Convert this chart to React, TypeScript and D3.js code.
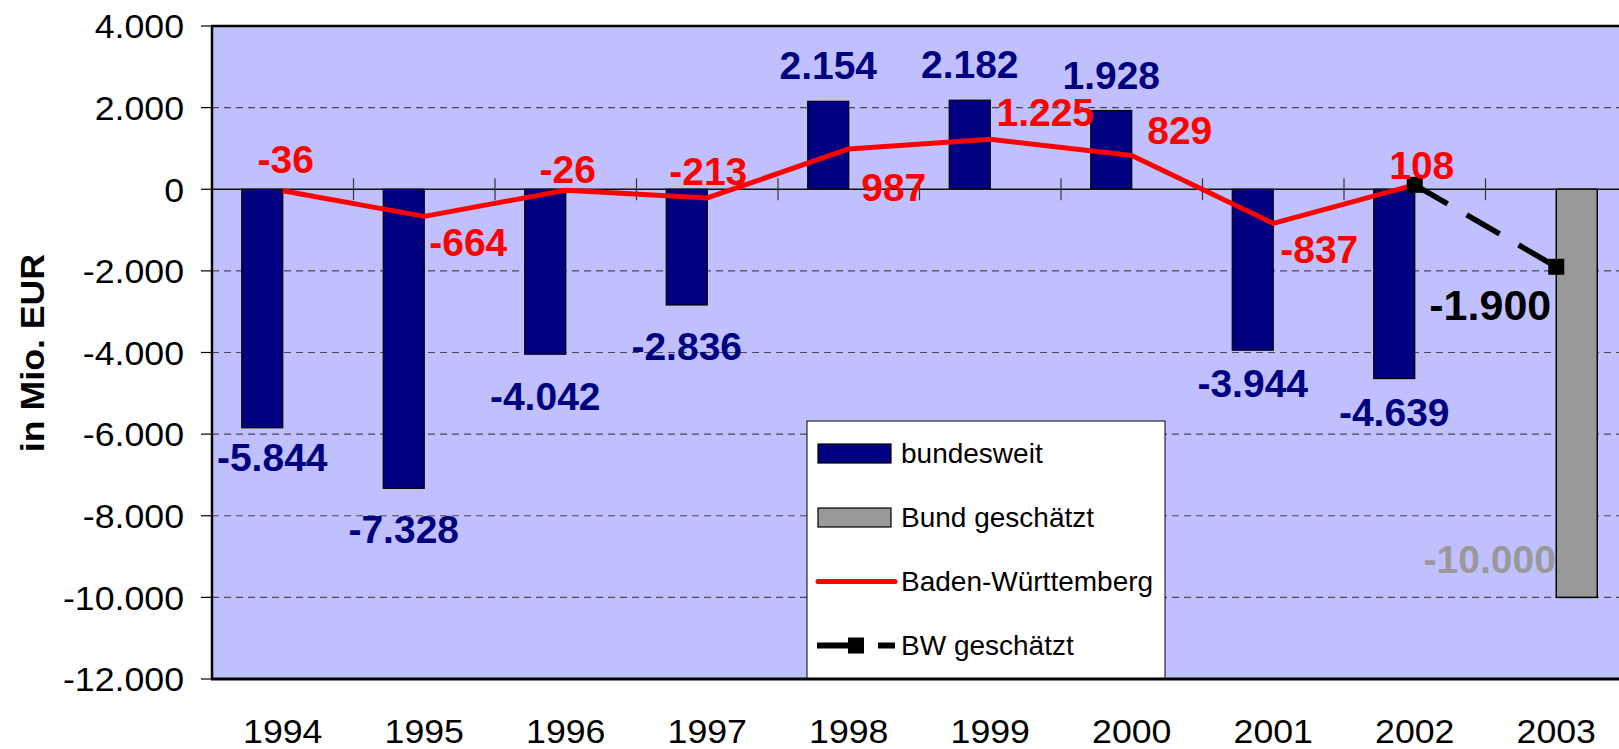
import React from 'react';
import * as d3 from 'd3';

// ---------------- data ----------------
const years = ['1994', '1995', '1996', '1997', '1998', '1999', '2000', '2001', '2002', '2003'];
const bundesweit: (number | null)[] = [-5844, -7328, -4042, -2836, 2154, 2182, 1928, -3944, -4639, null];
const bundGeschaetzt: (number | null)[] = [null, null, null, null, null, null, null, null, null, -10000];
const badenWuerttemberg: (number | null)[] = [-36, -664, -26, -213, 987, 1225, 829, -837, 108, null];
const bwGeschaetzt: (number | null)[] = [null, null, null, null, null, null, null, null, 108, -1900];
const yTicks = [4000, 2000, 0, -2000, -4000, -6000, -8000, -10000, -12000];
const legendLabels = ['bundesweit', 'Bund geschätzt', 'Baden-Württemberg', 'BW geschätzt'];
const yTitle = 'in Mio. EUR';

// ---------------- layout ----------------
const W = 1619;
const H = 749;
const P = { left: 212, top: 26, right: 1627, bottom: 679 };
// label placement (pixel offsets relative to the data point)
const bundLabelGap = [29.5, 41, 42, 41, 36, 36, 36, 32.5, 33];
const bundLabelDx = [10, 0, 0, 0, 0, 0, 0, 0, 0];
const bwLabelOffset: [number, number][] = [
  [3, -31.5], [44, 26], [2, -21], [1, -27], [45, 38], [55, -27], [48, -25], [46, 26], [7, -20],
];
const bwEstLabelOffset: [number, number] = [-66, 37.5];
const bundEstLabelOffset: [number, number] = [-87, -38];

const NAVY = '#000080';
const GRAY = '#999999';
const RED = '#FF0000';
const BG = '#C0C0FF';
const FONT = '"Liberation Sans", Arial, sans-serif';

const locale = d3.formatLocale({
  decimal: ',',
  thousands: '.',
  grouping: [3],
  currency: ['', ' €'],
  minus: '-',
});
const fmt = locale.format(',d');

export default function App() {
  const x = d3.scaleBand<string>().domain(years).range([P.left, P.right]).padding(0);
  const bw = x.bandwidth();
  const sub = d3
    .scaleBand<string>()
    .domain(['bund', 'est'])
    .range([0, bw])
    .paddingInner(0)
    .paddingOuter(0.7256);
  const barW = sub.bandwidth();
  const y = d3.scaleLinear().domain([-12000, 4000]).range([P.bottom, P.top]);
  const cx = (i: number) => (x(years[i]) as number) + bw / 2;

  const lineGen = d3
    .line<number | null>()
    .defined((d) => d !== null)
    .x((_, i) => cx(i))
    .y((d) => y(d as number));

  const gridVals = yTicks.filter((v) => v !== 0 && v !== 4000 && v !== -12000);
  const legendX = 807;
  const legendY = 421;
  const legendW = 358;
  const legendH = P.bottom - legendY;
  const rowY = (i: number) => 453.5 + i * 64;

  return (
    <svg
      width={W}
      height={H}
      style={{ position: 'absolute', left: 0, top: 0, background: '#fff' }}
      fontFamily={FONT}
    >
      {/* plot background */}
      <rect x={P.left} y={P.top} width={P.right - P.left} height={P.bottom - P.top} fill={BG} />

      {/* dashed gridlines */}
      {gridVals.map((v) => (
        <line
          key={'g' + v}
          x1={P.left}
          x2={P.right}
          y1={y(v)}
          y2={y(v)}
          stroke="#222"
          strokeWidth={1.1}
          strokeDasharray="7 5"
          opacity={0.75}
        />
      ))}

      {/* bars */}
      {bundesweit.map((v, i) =>
        v === null ? null : (
          <rect
            key={'b' + i}
            x={(x(years[i]) as number) + (sub('bund') as number)}
            y={Math.min(y(v), y(0))}
            width={barW}
            height={Math.abs(y(v) - y(0))}
            fill={NAVY}
            stroke="#000"
            strokeWidth={1.2}
          />
        )
      )}
      {bundGeschaetzt.map((v, i) =>
        v === null ? null : (
          <rect
            key={'e' + i}
            x={(x(years[i]) as number) + (sub('est') as number)}
            y={Math.min(y(v), y(0))}
            width={barW}
            height={Math.abs(y(v) - y(0))}
            fill={GRAY}
            stroke="#000"
            strokeWidth={1.5}
          />
        )
      )}

      {/* zero axis with cross ticks */}
      <line x1={P.left} x2={P.right} y1={y(0)} y2={y(0)} stroke="#111" strokeWidth={1.5} />
      {years.slice(1).map((yr) => (
        <line
          key={'t' + yr}
          x1={x(yr) as number}
          x2={x(yr) as number}
          y1={y(0) - 11}
          y2={y(0) + 11}
          stroke="#333"
          strokeWidth={1.2}
        />
      ))}

      {/* lines */}
      <path d={lineGen(badenWuerttemberg) || ''} fill="none" stroke={RED} strokeWidth={5} strokeLinejoin="round" />
      <path
        d={lineGen(bwGeschaetzt) || ''}
        fill="none"
        stroke="#000"
        strokeWidth={5.5}
        strokeDasharray="38 22"
      />
      {bwGeschaetzt.map((v, i) =>
        v === null ? null : (
          <rect key={'m' + i} x={cx(i) - 8} y={y(v) - 8} width={16} height={16} fill="#000" />
        )
      )}

      {/* data labels */}
      <g fontWeight="bold" fontSize={39} textAnchor="middle">
        {bundesweit.map((v, i) => {
          if (v === null) return null;
          const bx = (x(years[i]) as number) + (sub('bund') as number) + barW / 2;
          const gy = y(v) + (v < 0 ? bundLabelGap[i] : -bundLabelGap[i]);
          return (
            <text key={'lb' + i} x={bx + bundLabelDx[i]} y={gy} dy="0.36em" fill={NAVY}>
              {fmt(v)}
            </text>
          );
        })}
        {badenWuerttemberg.map((v, i) => {
          if (v === null) return null;
          const [dx, dy] = bwLabelOffset[i];
          return (
            <text key={'lr' + i} x={cx(i) + dx} y={y(v) + dy} dy="0.36em" fill={RED}>
              {fmt(v)}
            </text>
          );
        })}
        {bundGeschaetzt.map((v, i) => {
          if (v === null) return null;
          const bx = (x(years[i]) as number) + (sub('est') as number) + barW / 2;
          return (
            <text
              key={'lg' + i}
              x={bx + bundEstLabelOffset[0]}
              y={y(v) + bundEstLabelOffset[1]}
              dy="0.36em"
              fill={GRAY}
            >
              {fmt(v)}
            </text>
          );
        })}
        {bwGeschaetzt.map((v, i) => {
          if (v === null || i !== bwGeschaetzt.length - 1) return null;
          return (
            <text
              key={'lk' + i}
              x={cx(i) + bwEstLabelOffset[0]}
              y={y(v) + bwEstLabelOffset[1]}
              dy="0.36em"
              fill="#000"
              fontSize={43}
            >
              {fmt(v)}
            </text>
          );
        })}
      </g>

      {/* legend */}
      <g>
        <rect x={legendX} y={legendY} width={legendW} height={legendH} fill="#fff" stroke="#000" strokeWidth={1} />
        <rect x={818} y={rowY(0) - 9.5} width={73} height={19} fill={NAVY} stroke="#000" strokeWidth={1.2} />
        <rect x={818} y={rowY(1) - 9.5} width={73} height={19} fill={GRAY} stroke="#000" strokeWidth={1.2} />
        <line x1={818} x2={895} y1={rowY(2)} y2={rowY(2)} stroke={RED} strokeWidth={5} strokeLinecap="round" />
        <line x1={817} x2={850} y1={rowY(3)} y2={rowY(3)} stroke="#000" strokeWidth={6} />
        <rect x={848} y={rowY(3) - 8} width={16} height={16} fill="#000" />
        <line x1={878} x2={895} y1={rowY(3)} y2={rowY(3)} stroke="#000" strokeWidth={6} />
        {legendLabels.map((t, i) => (
          <text key={'ll' + i} x={901} y={rowY(i)} dy="0.35em" fontSize={28} fill="#000">
            {t}
          </text>
        ))}
      </g>

      {/* plot border */}
      <line x1={P.left - 1} x2={P.right} y1={P.top} y2={P.top} stroke="#000" strokeWidth={2.5} />
      <line x1={P.left - 1} x2={P.right} y1={P.bottom} y2={P.bottom} stroke="#000" strokeWidth={3} />
      <line x1={P.left} x2={P.left} y1={P.top} y2={P.bottom} stroke="#000" strokeWidth={2.5} />

      {/* y axis ticks and labels */}
      {yTicks.map((v) => (
        <g key={'y' + v}>
          <line x1={201} x2={P.left} y1={y(v)} y2={y(v)} stroke="#000" strokeWidth={1.2} />
          <g transform={`translate(184,${y(v)}) scale(1.05,1)`}>
            <text x={0} y={0} dy="0.36em" textAnchor="end" fontSize={34} fill="#000">
              {fmt(v)}
            </text>
          </g>
        </g>
      ))}

      {/* x labels */}
      {years.map((yr, i) => (
        <g key={'x' + yr} transform={`translate(${cx(i)},743) scale(1.05,1)`}>
          <text x={0} y={0} textAnchor="middle" fontSize={34} fill="#000">
            {yr}
          </text>
        </g>
      ))}

      {/* y title */}
      <g transform="translate(32,353) rotate(-90) scale(1.05,1)">
        <text x={0} y={0} dy="0.36em" textAnchor="middle" fontSize={34} fontWeight="bold" fill="#000">
          {yTitle}
        </text>
      </g>
    </svg>
  );
}
